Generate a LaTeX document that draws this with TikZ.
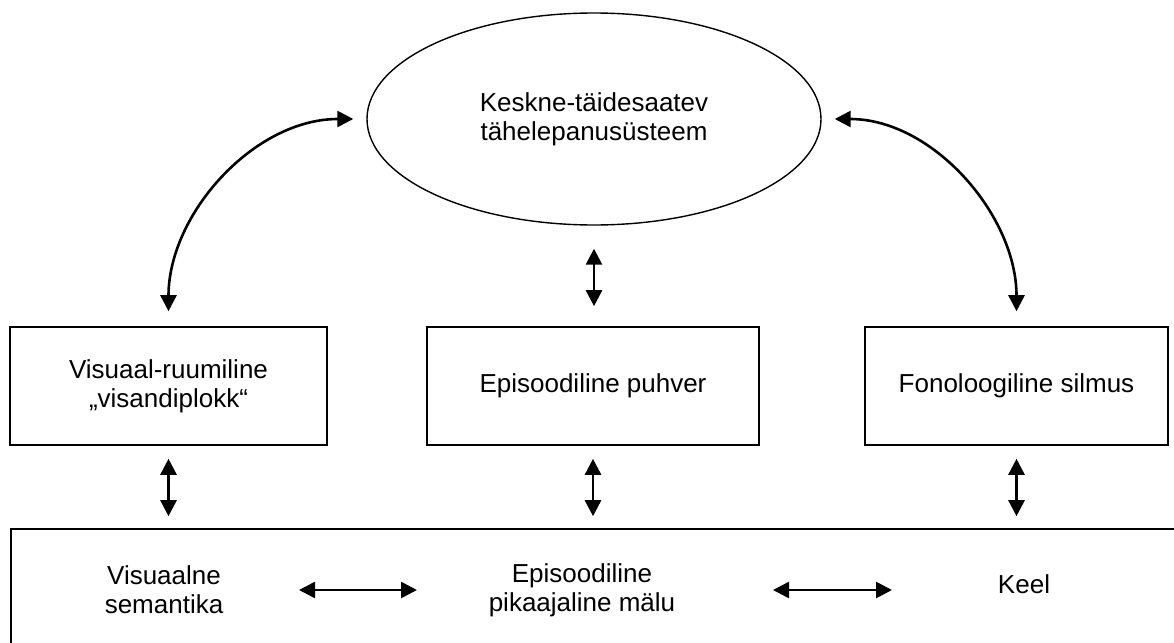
\documentclass[tikz,border=0pt]{standalone}
\usepackage{fontspec}
\setmainfont{Liberation Sans}
\usetikzlibrary{arrows.meta, shapes.geometric}
\tikzset{
    wmfont/.style={font=\fontsize{26}{29}\selectfont},
    wmbox/.style={draw, align=center, line width=1.6pt, wmfont},
    wmcentral/.style={ellipse, draw, align=center, inner sep=0pt, line width=1.4pt, wmfont},
    wmtext/.style={align=center, wmfont},
    wmarrow/.style={{Triangle[length=16pt,width=16pt]}-{Triangle[length=16pt,width=16pt]}, line width=2.6pt}
}

\begin{document}
\begin{tikzpicture}[x=1pt, y=-1pt]
  \useasboundingbox (0,0) rectangle (1174,642);
  \clip (0,0) rectangle (1174,642);
  % central executive
  \node[wmcentral, minimum width=454pt, minimum height=212pt] (attn) at (594,119) {Keskne-täidesaatev\\tähelepanusüsteem};
  % slave systems
  \node[wmbox, minimum width=317pt, minimum height=118pt] (vsp) at (168.5,386) {Visuaal-ruumiline\\„visandiplokk“};
  \node[wmbox, minimum width=332pt, minimum height=118pt] (eb) at (593,386) {Episoodiline puhver};
  \node[wmbox, minimum width=303pt, minimum height=118pt] (pl) at (1016.5,386) {Fonoloogiline silmus};
  % long-term memory
  \node[wmbox, minimum width=1189pt, minimum height=151pt] (ltm) at (605.5,604.5) {};
  \node[wmtext] (vsem) at (164,590) {Visuaalne\\semantika};
  \node[wmtext] (eltm) at (582,590) {Episoodiline\\pikaajaline mälu};
  \node[wmtext] (lang) at (1024,584) {Keel};
  % connectors
  \draw[wmarrow, shorten <=15pt, shorten >=13pt] (vsp.north) to[out=90, in=180] (attn.west);
  \draw[wmarrow, shorten <=15pt, shorten >=13pt] (pl.north) to[out=90, in=0] (attn.east);
  \draw[wmarrow, shorten <=23pt, shorten >=20pt] (attn.south) -- (attn.south |- eb.north);
  \foreach \b in {vsp,eb,pl} {
      \draw[wmarrow, shorten <=13pt, shorten >=12pt] (\b.south) -- (\b.south |- ltm.north);
  }
  \draw[wmarrow, shorten <=135pt, shorten >=165pt] (vsem.center) -- (vsem.center -| eltm.center);
  \draw[wmarrow, shorten <=191pt, shorten >=132pt] (eltm.center) -- (eltm.center -| lang.center);
\end{tikzpicture}
\end{document}
